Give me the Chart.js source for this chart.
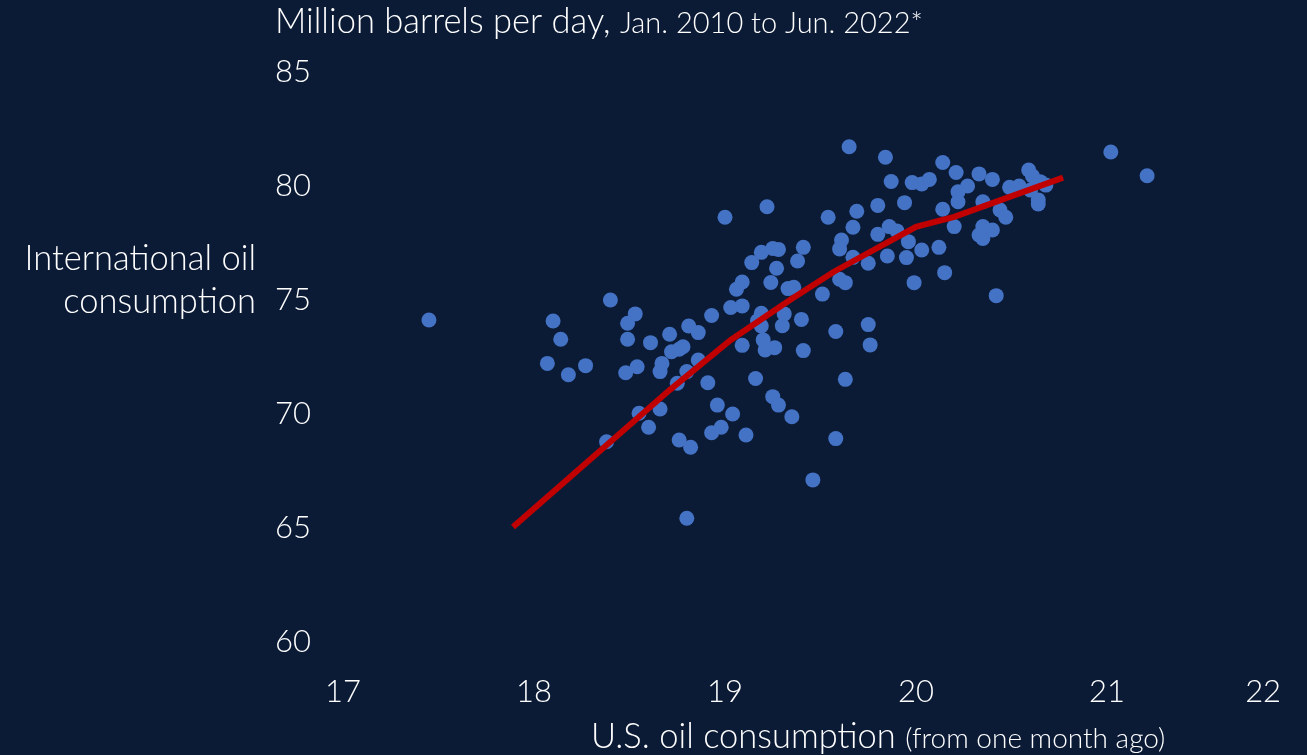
<!DOCTYPE html>
<html>
<head>
<meta charset="utf-8">
<title>Oil consumption</title>
<script src="https://cdn.jsdelivr.net/npm/chart.js@4.4.0/dist/chart.umd.min.js"></script>
<style>
  html, body { margin: 0; padding: 0; background: #0b1b36; }
  canvas { display: block; }
</style>
</head>
<body>
<canvas id="oilChart" width="1307" height="755"></canvas>
<script>
// U.S. oil consumption (one month earlier), million barrels per day
const usConsumption = [
  17.45, 18.10, 18.14, 18.07, 18.18, 18.27, 18.40, 18.38, 19.22, 19.00,
  19.19, 19.25, 19.28, 19.14, 19.27, 19.24, 19.09, 19.06, 19.33, 19.03,
  19.09, 18.53, 18.49, 18.93, 19.19, 19.17, 19.19, 19.30, 18.81, 18.86,
  18.49, 18.61, 18.71, 18.72, 18.78, 18.76, 19.09, 19.20, 19.21, 19.26,
  18.54, 18.48, 18.67, 18.66, 18.86, 18.80, 18.75, 18.91, 19.16, 19.25,
  19.28, 18.96, 19.04, 18.66, 18.55, 18.60, 18.93, 18.98, 19.11, 18.76,
  18.82, 18.80, 19.35, 19.40, 19.58, 19.75, 19.76, 19.41, 19.63, 19.58,
  19.46, 19.65, 19.84, 20.14, 20.21, 19.87, 19.98, 20.03, 20.07, 20.27,
  20.22, 19.94, 19.80, 20.14, 20.22, 19.69, 19.54, 19.67, 19.86, 19.90,
  19.80, 20.20, 19.61, 19.60, 19.96, 19.41, 20.03, 20.12, 19.67, 19.85,
  19.95, 19.75, 19.38, 20.15, 19.60, 19.63, 19.99, 19.36, 19.51, 21.02,
  21.21, 20.33, 20.40, 20.59, 20.61, 20.49, 20.54, 20.65, 20.68, 20.60,
  20.35, 20.44, 20.47, 20.64, 20.64, 20.33, 20.35, 20.40, 20.35, 20.42,
  19.31
];
// international oil consumption, million barrels per day
const intlConsumption = [
  74.12, 74.08, 73.28, 72.22, 71.72, 72.12, 75.00, 68.78, 79.09, 78.63,
  77.09, 77.26, 77.22, 76.64, 76.39, 75.77, 75.79, 75.47, 75.50, 74.67,
  74.74, 74.39, 73.98, 74.32, 74.42, 74.09, 73.86, 73.87, 73.86, 73.57,
  73.28, 73.13, 73.50, 72.73, 72.95, 72.84, 73.01, 73.25, 72.81, 72.91,
  72.07, 71.81, 72.22, 71.86, 72.37, 71.86, 71.35, 71.37, 71.56, 70.76,
  70.39, 70.39, 70.00, 70.22, 70.03, 69.42, 69.18, 69.42, 69.08, 68.86,
  68.54, 65.43, 69.88, 74.15, 73.62, 73.92, 73.03, 72.78, 71.52, 68.92,
  67.11, 81.72, 81.26, 81.03, 80.59, 80.20, 80.15, 80.09, 80.29, 80.00,
  79.75, 79.27, 79.15, 78.98, 79.31, 78.89, 78.63, 78.19, 78.22, 78.03,
  77.88, 78.22, 77.63, 77.24, 77.56, 77.31, 77.19, 77.31, 76.87, 76.93,
  76.86, 76.61, 76.71, 76.20, 75.91, 75.76, 75.76, 75.56, 75.26, 81.49,
  80.45, 80.53, 80.29, 80.70, 80.44, 79.94, 80.00, 80.19, 80.04, 79.82,
  79.31, 78.95, 78.63, 79.21, 79.39, 77.85, 77.70, 78.07, 78.22, 75.19,
  74.39
];

// red fitted curve
const fitX = [17.89, 18.71, 19.03, 19.34, 19.57, 20.00, 20.20, 20.77];
const fitY = [65.04, 71.05, 73.25, 75.00, 76.24, 78.21, 78.65, 80.37];

const xMin = 17, xMax = 22;
const yMin = 60, yMax = 85;

let scatter_points = usConsumption.map((v, i) => ({ x: v, y: intlConsumption[i] }));
let fit_points = fitX.map((v, i) => ({ x: v, y: fitY[i] }));

const FONT = "Lato, 'Open Sans', sans-serif";

// titles are plain horizontal text, drawn after the chart
let chartText = {
  id: "chartText",
  afterDraw(chart) {
    let ctx = chart.ctx;
    ctx.save();
    ctx.fillStyle = "#ffffff";
    ctx.textBaseline = "alphabetic";

    // top title
    ctx.textAlign = "left";
    ctx.font = "300 34.5px " + FONT;
    let big = "Million barrels per day, ";
    ctx.fillText(big, 275, 33);
    let w = ctx.measureText(big).width;
    ctx.font = "300 29px " + FONT;
    ctx.fillText("Jan. 2010 to Jun. 2022*", 275 + w, 33);

    // y axis title
    ctx.textAlign = "right";
    ctx.font = "300 34.5px " + FONT;
    ctx.fillText("International oil", 256, 270);
    ctx.fillText("consumption", 256, 313);

    // x axis title
    ctx.textAlign = "left";
    ctx.font = "300 34.5px " + FONT;
    let xt = "U.S. oil consumption ";
    ctx.fillText(xt, 591, 748);
    let w2 = ctx.measureText(xt).width;
    ctx.font = "300 28px " + FONT;
    ctx.fillText("(from one month ago)", 591 + w2, 748);
    ctx.restore();
  },
};

const ctx = document.getElementById("oilChart").getContext("2d");
let oilChart = new Chart(ctx, {
  type: "scatter",
  data: {
    datasets: [
      {
        label: "Trend",
        data: fit_points,
        showLine: true,
        borderColor: "#c00000",
        borderWidth: 6,
        pointRadius: 0,
        fill: false,
        tension: 0,
        order: 0,
      },
      {
        label: "Monthly",
        data: scatter_points,
        backgroundColor: "#4472c4",
        borderColor: "#4472c4",
        borderWidth: 0,
        pointRadius: 7.5,
        order: 1,
      },
    ],
  },
  options: {
    responsive: false,
    animation: false,
    layout: { padding: { top: 72, left: 0, bottom: 0, right: 9 } },
    plugins: {
      legend: { display: false },
      tooltip: { enabled: false },
    },
    scales: {
      x: {
        type: "linear",
        min: xMin,
        max: xMax,
        grid: { display: false, drawTicks: false },
        border: { display: false },
        ticks: {
          stepSize: 1,
          color: "#ffffff",
          padding: 31,
          font: { family: FONT, size: 31, weight: 300 },
          // last label sits inside the plot edge, like the original
          callback: (v) => (v === xMax ? v + "\u2003\u2003\u2003" : v),
        },
        afterFit: (scale) => {
          scale.height = 113;
          scale.paddingRight = 0;
        },
      },
      y: {
        type: "linear",
        min: yMin,
        max: yMax,
        grid: { display: false, drawTicks: false },
        border: { display: false },
        ticks: {
          stepSize: 5,
          color: "#ffffff",
          padding: 32,
          font: { family: FONT, size: 31, weight: 300 },
        },
        afterFit: (scale) => {
          scale.width = 343;
        },
      },
    },
  },
  plugins: [chartText],
});
</script>
</body>
</html>
